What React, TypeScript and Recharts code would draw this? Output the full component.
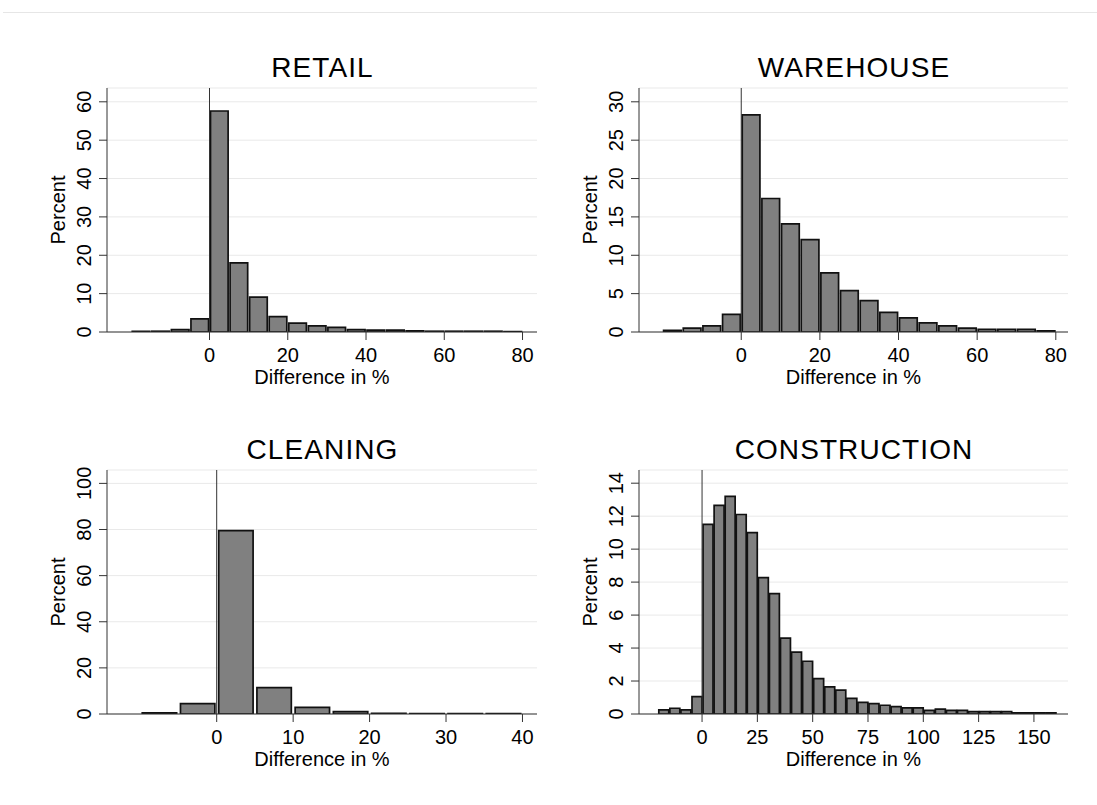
import React from 'react';
import { BarChart, Bar, XAxis, YAxis, CartesianGrid, ReferenceLine } from 'recharts';

const FONT = '"Liberation Sans", Arial, Helvetica, sans-serif';
const BIN = 5;

// lower edge of each 5-point bin, and the percent in it
const retailBins = [-20, -15, -10, -5, 0, 5, 10, 15, 20, 25, 30, 35, 40, 45, 50, 55, 60, 65, 70, 75];
const retailPct = [0.2, 0.2, 0.6, 3.4, 57.6, 18.0, 9.1, 4.0, 2.3, 1.6, 1.2, 0.6, 0.5, 0.5, 0.3, 0.2, 0.2, 0.2, 0.2, 0.1];

const warehouseBins = [-20, -15, -10, -5, 0, 5, 10, 15, 20, 25, 30, 35, 40, 45, 50, 55, 60, 65, 70, 75];
const warehousePct = [0.2, 0.5, 0.8, 2.3, 28.3, 17.4, 14.1, 12.05, 7.7, 5.4, 4.1, 2.55, 1.85, 1.2, 0.8, 0.5, 0.35, 0.35, 0.35, 0.15];

const cleaningBins = [-10, -5, 0, 5, 10, 15, 20, 25, 30, 35];
const cleaningPct = [0.5, 4.5, 79.5, 11.4, 2.9, 1.0, 0.3, 0.2, 0.2, 0.2];

const constructionBins = [
  -20, -15, -10, -5, 0, 5, 10, 15, 20, 25, 30, 35, 40, 45, 50, 55, 60, 65,
  70, 75, 80, 85, 90, 95, 100, 105, 110, 115, 120, 125, 130, 135, 140, 145, 150, 155,
];
const constructionPct = [
  0.25, 0.35, 0.25, 1.05, 11.5, 12.65, 13.2, 12.1, 11.0, 8.27, 7.3, 4.6, 3.75, 3.2, 2.15, 1.65, 1.45, 0.95,
  0.7, 0.63, 0.53, 0.45, 0.37, 0.37, 0.22, 0.3, 0.22, 0.22, 0.15, 0.15, 0.15, 0.14, 0.07, 0.07, 0.07, 0.07,
];

const retailXTicks = [0, 20, 40, 60, 80];
const retailYTicks = [0, 10, 20, 30, 40, 50, 60];
const warehouseXTicks = [0, 20, 40, 60, 80];
const warehouseYTicks = [0, 5, 10, 15, 20, 25, 30];
const cleaningXTicks = [0, 10, 20, 30, 40];
const cleaningYTicks = [0, 20, 40, 60, 80, 100];
const constructionXTicks = [0, 25, 50, 75, 100, 125, 150];
const constructionYTicks = [0, 2, 4, 6, 8, 10, 12, 14];

interface Panel {
  title: string;
  bins: number[];
  pct: number[];
  xTicks: number[];
  yTicks: number[];
  xDomain: [number, number];
  yDomain: [number, number];
  left: number;
  top: number;
  width: number;
  height: number;
}

const panels: Panel[] = [
  { title: 'RETAIL', bins: retailBins, pct: retailPct, xTicks: retailXTicks, yTicks: retailYTicks,
    xDomain: [-26.2, 83.7], yDomain: [0, 63.6], left: 107, top: 88, width: 430, height: 244 },
  { title: 'WAREHOUSE', bins: warehouseBins, pct: warehousePct, xTicks: warehouseXTicks, yTicks: warehouseYTicks,
    xDomain: [-26, 83.1], yDomain: [0, 31.8], left: 639, top: 88, width: 429, height: 244 },
  { title: 'CLEANING', bins: cleaningBins, pct: cleaningPct, xTicks: cleaningXTicks, yTicks: cleaningYTicks,
    xDomain: [-14.35, 41.9], yDomain: [0, 105.8], left: 107, top: 470, width: 430, height: 244 },
  { title: 'CONSTRUCTION', bins: constructionBins, pct: constructionPct, xTicks: constructionXTicks, yTicks: constructionYTicks,
    xDomain: [-28.5, 165.4], yDomain: [0, 14.8], left: 639, top: 470, width: 429, height: 244 },
];

const AXIS = '#333333';

const XTick = (props: any) => {
  const { x, y, payload } = props;
  return (
    <text x={x} y={y} dy={12.5} textAnchor="middle" fontSize={20} fontFamily={FONT} fill="#000">
      {payload.value}
    </text>
  );
};

const YTick = (props: any) => {
  const { x, y, payload } = props;
  return (
    <text x={0} y={0} transform={`translate(${x + 0.5}, ${y}) rotate(-90)`} textAnchor="middle" fontSize={20} fontFamily={FONT} fill="#000">
      {payload.value}
    </text>
  );
};

function Histogram({ p }: { p: Panel }) {
  const data = p.bins.map((b, i) => ({ mid: b + BIN / 2, pct: p.pct[i] }));
  const barSize = (p.width * BIN) / (p.xDomain[1] - p.xDomain[0]);
  const ML = 100;
  const MT = 40;
  const MR = 20;
  const MB = 70;

  return (
    <div style={{ position: 'absolute', left: p.left - ML, top: p.top - MT }}>
      <BarChart
        width={p.width + ML + MR}
        height={p.height + MT + MB}
        data={data}
        margin={{ top: MT, right: MR, left: 0, bottom: 0 }}
        barCategoryGap={0}
        barGap={0}
      >
        <CartesianGrid horizontal vertical={false} stroke="#e9e9e9" />
        <XAxis
          type="number"
          dataKey="mid"
          domain={p.xDomain}
          ticks={p.xTicks}
          interval={0}
          allowDataOverflow
          height={MB}
          tickSize={8}
          tickMargin={9}
          tick={(t: any) => <XTick {...t} />}
          axisLine={{ stroke: AXIS }}
          tickLine={{ stroke: AXIS }}
        />
        <YAxis
          type="number"
          domain={p.yDomain}
          ticks={p.yTicks}
          interval={0}
          allowDataOverflow
          width={ML}
          tickSize={8}
          tickMargin={9}
          tick={(t: any) => <YTick {...t} />}
          axisLine={{ stroke: AXIS }}
          tickLine={{ stroke: AXIS }}
        />
        <ReferenceLine x={0} stroke={AXIS} />
        <Bar dataKey="pct" fill="#808080" stroke="#111" strokeWidth={1.7} barSize={barSize} isAnimationActive={false} />
      </BarChart>
    </div>
  );
}

export default function App() {
  return (
    <div style={{ position: 'absolute', left: 0, top: 0, width: 1097, height: 805, background: '#fff', overflow: 'hidden' }}>
      <div style={{ position: 'absolute', left: 3, right: 0, top: 12, height: 1, background: '#e6e6e6' }} />
      {panels.map((p) => (
        <Histogram key={p.title} p={p} />
      ))}
      <svg width={1097} height={805} style={{ position: 'absolute', left: 0, top: 0, pointerEvents: 'none' }}>
        {panels.map((p) => (
          <g key={p.title} fontFamily={FONT} fill="#000">
            <text x={p.left + p.width / 2 + 0.5} y={p.top - 11} textAnchor="middle" fontSize={28} letterSpacing={1.1}>
              {p.title}
            </text>
            <text
              transform={`translate(${p.left - 42}, ${p.top + p.height / 2}) rotate(-90)`}
              textAnchor="middle"
              fontSize={20}
            >
              Percent
            </text>
            <text x={p.left + p.width / 2} y={p.top + p.height + 52} textAnchor="middle" fontSize={20}>
              Difference in %
            </text>
          </g>
        ))}
      </svg>
    </div>
  );
}
